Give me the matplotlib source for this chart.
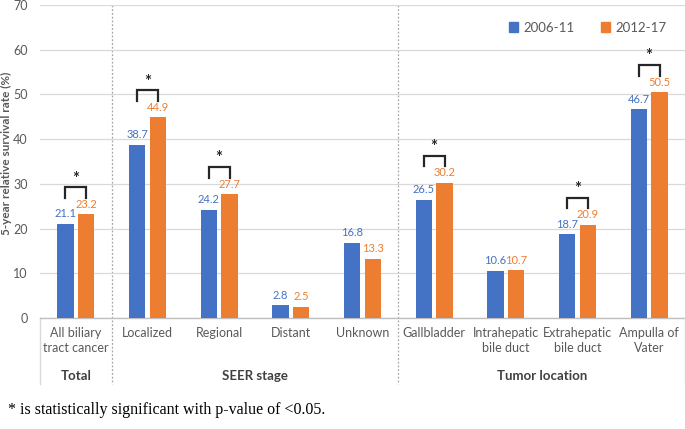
import matplotlib
matplotlib.use("Agg")
import matplotlib.pyplot as plt
import matplotlib.transforms as mtransforms
from matplotlib.patches import Patch

categories = ["All biliary\ntract cancer", "Localized", "Regional", "Distant", "Unknown",
              "Gallbladder", "Intrahepatic\nbile duct", "Extrahepatic\nbile duct", "Ampulla of\nVater"]
s2006 = [21.1, 38.7, 24.2, 2.8, 16.8, 26.5, 10.6, 18.7, 46.7]
s2012 = [23.2, 44.9, 27.7, 2.5, 13.3, 30.2, 10.7, 20.9, 50.5]
significant = [True, True, True, False, False, True, False, True, True]
groups = ["Total", "SEER stage", "Tumor location"]
group_spans = [(0, 0), (1, 4), (5, 8)]
series_names = ["2006-11", "2012-17"]
yticks = [0, 10, 20, 30, 40, 50, 60, 70]

BLUE = "#4472C4"
ORANGE = "#ED7D31"
GREY = "#595959"
LINE = "#BFBFBF"

plt.rcParams['font.family'] = ['Lato', 'DejaVu Sans']

fig = plt.figure(figsize=(6.85, 4.29), dpi=100)
ax = fig.add_axes([40/685, 111/429, 645/685, 313/429])

x = list(range(len(categories)))
w = 0.225
off = 0.145
ax.bar([i - off for i in x], s2006, width=w, color=BLUE, zorder=3)
ax.bar([i + off for i in x], s2012, width=w, color=ORANGE, zorder=3)

for i in x:
    ax.text(i - off, s2006[i] + 1.0, f"{s2006[i]:.1f}", ha='center', va='bottom',
            color=BLUE, fontsize=8)
    ax.text(i + off, s2012[i] + 1.0, f"{s2012[i]:.1f}", ha='center', va='bottom',
            color=ORANGE, fontsize=8)
    if significant[i]:
        m = max(s2006[i], s2012[i])
        top = m + 6.0
        ax.plot([i - off, i - off, i + off, i + off], [top - 2.3, top, top, top - 2.3],
                color='#262626', lw=1.6, zorder=4, solid_joinstyle='miter')
        ax.text(i, top + 0.2, "*", ha='center', va='bottom', fontsize=12,
                color='#262626', fontweight='bold')

ax.set_xlim(-0.5, len(categories) - 0.5)
ax.set_ylim(0, 70)
ax.set_yticks(yticks)
ax.tick_params(axis='y', length=0, colors=GREY, labelsize=9, pad=9)
ax.set_xticks([])
ax.grid(axis='y', color='#D9D9D9', lw=0.9, zorder=0)
for s in ['top', 'right', 'left']:
    ax.spines[s].set_visible(False)
ax.spines['bottom'].set_color(LINE)
ax.spines['bottom'].set_linewidth(1.0)

ax.set_ylabel("5-year relative survival rate (%)", color=GREY, fontsize=8.5,
              fontweight='bold')
ax.yaxis.set_label_coords(-28/645, (318-153)/313)

trans = mtransforms.blended_transform_factory(ax.transData, ax.transAxes)
ybottom = -66/313
for i, c in enumerate(categories):
    ax.text(i, -9/313, c, transform=trans, ha='center', va='top', fontsize=9,
            color=GREY, linespacing=1.25)
for g, (a, b) in zip(groups, group_spans):
    ax.text((a + b) / 2, -58/313, g, transform=trans, ha='center', va='center',
            fontsize=9.5, color='#404040', fontweight='bold')
for xs in [0.5, 4.5]:
    ax.plot([xs, xs], [1.0, ybottom], transform=trans,
            color='#A6A6A6', lw=0.9, ls=(0, (1.5, 1.5)), clip_on=False, zorder=1)
for xs in [-0.5, 8.5]:
    ax.plot([xs, xs], [0, ybottom], transform=trans, color='#D9D9D9', lw=1.0,
            clip_on=False)

handles = [Patch(color=BLUE), Patch(color=ORANGE)]
ax.legend(handles, series_names, loc='upper right', bbox_to_anchor=(0.99, 0.985),
          ncol=2, frameon=False, fontsize=9.5, handlelength=0.7, handleheight=0.7,
          columnspacing=2.0, handletextpad=0.4, labelcolor=GREY)

fig.text(8/685, 1 - 410/429, "* is statistically significant with p-value of <0.05.",
         family=['Liberation Serif'], fontsize=11.5, va='center', ha='left', color='black')

fig.savefig("out.png", dpi=100)
